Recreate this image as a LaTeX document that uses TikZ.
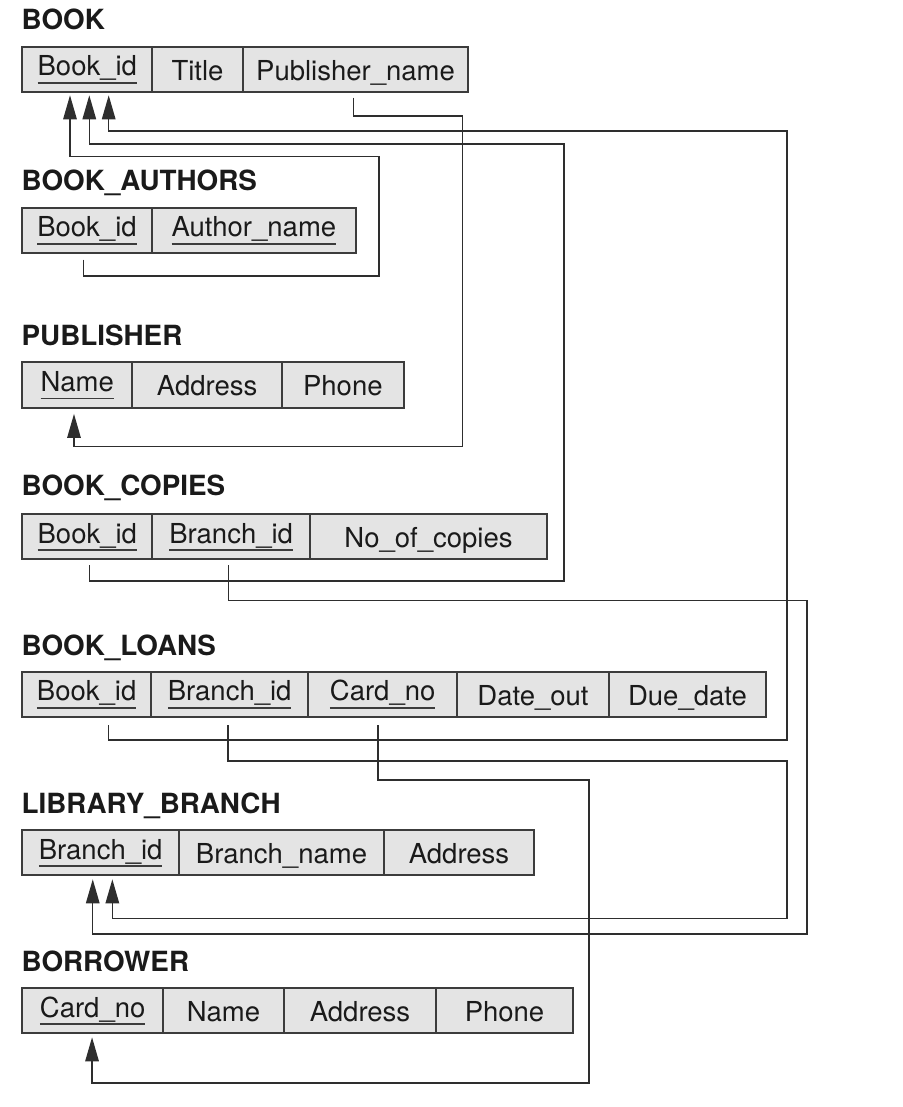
\documentclass[tikz,border=0pt]{standalone}
\usepackage{fontspec}
\setmainfont{TeX Gyre Heros}
\usetikzlibrary{arrows.meta}
\definecolor{cellfill}{HTML}{E4E4E4}
\definecolor{cellline}{HTML}{3C3C3C}
\definecolor{conn}{HTML}{2E2E2E}
\definecolor{ink}{HTML}{1A1A1A}
\newcommand\keyu[1]{\sbox0{#1}\rlap{\color{cellline}\rule[-7.8pt]{\wd0}{1.6pt}}\usebox0}
\begin{document}
\begin{tikzpicture}[x=1pt,y=-1pt,
  cell/.style={draw=cellline, fill=cellfill, line width=1.8pt, rectangle, inner sep=0pt, outer sep=0pt,
    minimum height=45.3pt, anchor=north west, font=\fontsize{27.5}{30}\selectfont, text=ink,
    text height=22pt, text depth=0pt},
  keycell/.style={cell, text height=18pt, text depth=5pt},
  reltitle/.style={anchor=base west, inner sep=0pt, font=\fontsize{27.8}{30}\selectfont\bfseries, text=ink},
  fk/.style={draw=conn, line width=1.4pt, -{Triangle[length=24pt,width=13.5pt]}},
]
\useasboundingbox (0,0) rectangle (902,1107);

% BOOK
\node[reltitle] (tbook) at (21.5,30) {BOOK};
\node[keycell, minimum width=130pt] (b1) at (22.3,46.7) {\keyu{Book\_id}};
\node[cell, minimum width=90.4pt] (b2) at (b1.north east) {Title};
\node[cell, minimum width=225.6pt] (b3) at (b2.north east) {Publisher\_name};

% BOOK_AUTHORS
\node[reltitle] (tba) at (21.5,191) {BOOK\_AUTHORS};
\node[keycell, minimum width=129.4pt] (ba1) at (22.3,207.7) {\keyu{Book\_id}};
\node[keycell, minimum width=204.3pt] (ba2) at (ba1.north east) {\keyu{Author\_name}};

% PUBLISHER
\node[reltitle] (tpub) at (21.5,345.7) {PUBLISHER};
\node[keycell, minimum width=110pt] (p1) at (22.3,362.3) {\keyu{Name}};
\node[cell, minimum width=149.7pt] (p2) at (p1.north east) {Address};
\node[cell, minimum width=121.7pt] (p3) at (p2.north east) {Phone};

% BOOK_COPIES
\node[reltitle] (tbc) at (21.5,495.7) {BOOK\_COPIES};
\node[keycell, minimum width=130pt] (bc1) at (22.3,514) {\keyu{Book\_id}};
\node[keycell, minimum width=157.7pt] (bc2) at (bc1.north east) {\keyu{Branch\_id}};
\node[cell, minimum width=237pt] (bc3) at (bc2.north east) {No\_of\_copies};

% BOOK_LOANS
\node[reltitle] (tbl) at (21.5,655) {BOOK\_LOANS};
\node[keycell, minimum width=128.7pt] (bl1) at (22.3,671.7) {\keyu{Book\_id}};
\node[keycell, minimum width=157.3pt] (bl2) at (bl1.north east) {\keyu{Branch\_id}};
\node[keycell, minimum width=148.7pt] (bl3) at (bl2.north east) {\keyu{Card\_no}};
\node[cell, minimum width=152pt] (bl4) at (bl3.north east) {Date\_out};
\node[cell, minimum width=157pt] (bl5) at (bl4.north east) {Due\_date};

% LIBRARY_BRANCH
\node[reltitle] (tlb) at (21.5,813) {LIBRARY\_BRANCH};
\node[keycell, minimum width=156.7pt] (lb1) at (22.3,830) {\keyu{Branch\_id}};
\node[cell, minimum width=205pt] (lb2) at (lb1.north east) {Branch\_name};
\node[cell, minimum width=150pt] (lb3) at (lb2.north east) {Address};

% BORROWER
\node[reltitle] (tbor) at (21.5,971) {BORROWER};
\node[keycell, minimum width=140.7pt] (bor1) at (22.3,988) {\keyu{Card\_no}};
\node[cell, minimum width=121pt] (bor2) at (bor1.north east) {Name};
\node[cell, minimum width=152pt] (bor3) at (bor2.north east) {Address};
\node[cell, minimum width=137pt] (bor4) at (bor3.north east) {Phone};

% foreign keys
\draw[fk] ([xshift=-3.7pt,yshift=-6.7pt]ba1.south) |- (379,276) -- (379,156.7)
  -| ([xshift=-17.3pt,yshift=-3.3pt]b1.south);
\draw[fk] ([xshift=-2.2pt,yshift=-5.6pt]b3.south) |- (462.3,116) -- (462.3,446.7)
  -| ([xshift=-3.3pt,yshift=-6.3pt]p1.south);
\draw[fk] ([xshift=2pt,yshift=-6pt]bc1.south) |- (564,581) -- (564,144)
  -| ([xshift=2pt,yshift=-3.3pt]b1.south);
\draw[fk] ([xshift=-2.9pt,yshift=-6pt]bc2.south) |- (807,600.7) -- (807,934)
  -| ([xshift=-7.9pt,yshift=-4pt]lb1.south);
\draw[fk] ([xshift=22pt,yshift=-8pt]bl1.south) |- (787,740) -- (787,131)
  -| ([xshift=21.4pt,yshift=-3.3pt]b1.south);
\draw[fk] ([xshift=-1.7pt,yshift=-8pt]bl2.south) |- (787,761) -- (787,918.3)
  -| ([xshift=11.7pt,yshift=-4pt]lb1.south);
\draw[fk] ([xshift=-4.7pt,yshift=-8pt]bl3.south) |- (589,780) -- (589,1083)
  -| ([xshift=-0.6pt,yshift=-4pt]bor1.south);
\end{tikzpicture}
\end{document}
